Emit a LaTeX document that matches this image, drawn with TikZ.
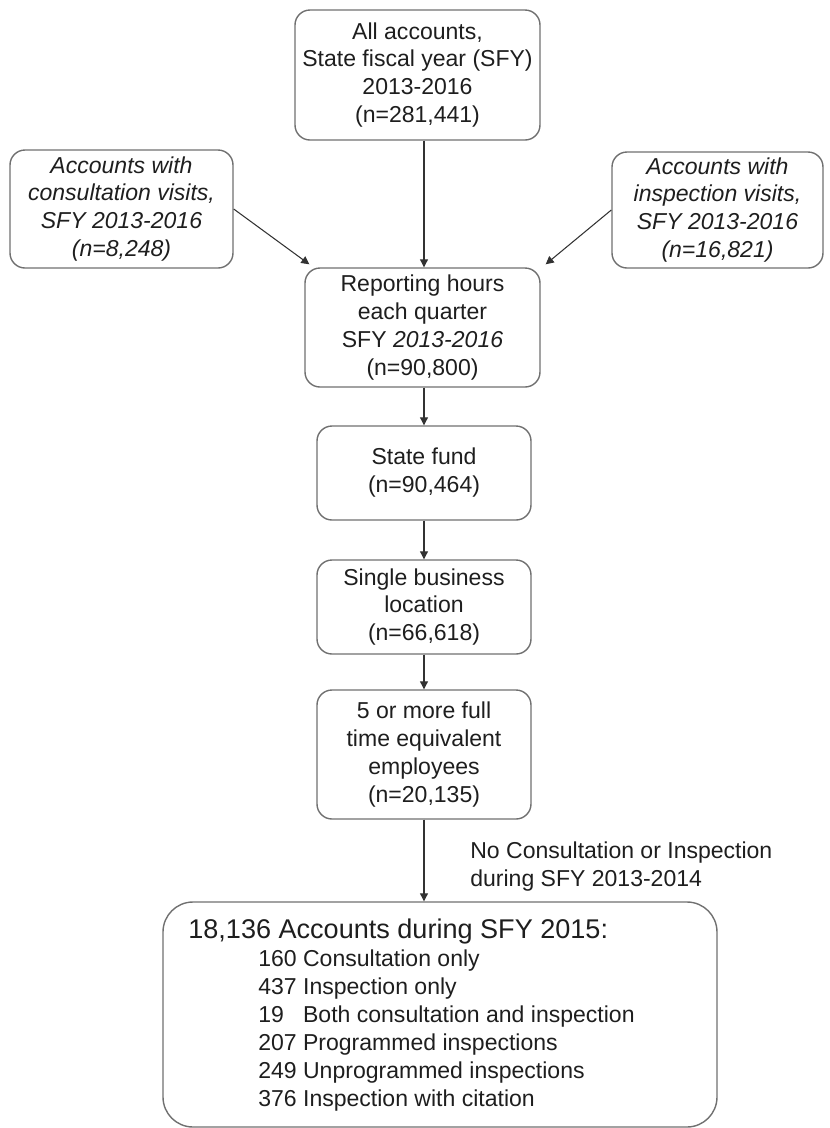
\documentclass[tikz,border=0pt]{standalone}
\usepackage{fontspec}
\setmainfont{Liberation Sans}
\usetikzlibrary{arrows.meta}
\definecolor{flowline}{RGB}{112,112,112}
\definecolor{flowtext}{RGB}{30,30,30}
\definecolor{flowarrow}{RGB}{50,50,50}

\begin{document}
\begin{tikzpicture}[x=1cm,y=1cm,
    box/.style={draw=flowline, line width=0.8pt, rounded corners=0.3cm, align=center, text=flowtext, inner sep=0pt, font=\fontsize{13.1}{15.9}\selectfont},
    arr/.style={-{Triangle[length=1.6mm,width=1.6mm]}, flowarrow, line width=0.6pt}]
    \useasboundingbox (0,0) rectangle (16.6,-22.56);
    \node[box, minimum width=4.9cm, minimum height=2.6cm] (all) at (8.35,-1.5) {All accounts,\\State fiscal year (SFY)\\2013-2016\\(n=281,441)};
    \node[box, minimum width=4.46cm, minimum height=2.36cm] (consult) at (2.43,-4.18) {\itshape Accounts with\\\itshape consultation visits,\\\itshape SFY 2013-2016\\\itshape (n=8,248)};
    \node[box, minimum width=4.22cm, minimum height=2.32cm] (insp) at (14.35,-4.2) {\itshape Accounts with\\\itshape inspection visits,\\\itshape SFY 2013-2016\\\itshape (n=16,821)};
    \node[box, minimum width=4.7cm, minimum height=2.38cm] (report) at (8.45,-6.55) {Reporting hours\\each quarter\\SFY \textit{2013-2016}\\(n=90,800)};
    \node[box, minimum width=4.28cm, minimum height=1.88cm] (fund) at (8.48,-9.46) {State fund\\(n=90,464)};
    \node[box, minimum width=4.28cm, minimum height=1.88cm] (single) at (8.48,-12.14) {Single business\\location\\(n=66,618)};
    \node[box, minimum width=4.28cm, minimum height=2.58cm] (fte) at (8.48,-15.09) {5 or more full\\time equivalent\\employees\\(n=20,135)};
    \node[box, rounded corners=0.6cm, minimum width=11.08cm, minimum height=4.5cm] (result) at (8.8,-20.29) {};
    \node[anchor=west, inner sep=0pt, text=flowtext, font=\fontsize{15.4}{18}\selectfont] (restitle) at (3.76,-18.62) {18,136 Accounts during SFY 2015:};
    \node[anchor=west, inner sep=0pt, align=left, text=flowtext, font=\fontsize{13.1}{16}\selectfont] (reslist) at (5.16,-20.61) {160 Consultation only\\437 Inspection only\\19\hphantom{0} Both consultation and inspection\\207 Programmed inspections\\249 Unprogrammed inspections\\376 Inspection with citation};
    \node[anchor=west, inner sep=0pt, align=left, text=flowtext, font=\fontsize{13.1}{15.9}\selectfont] (nolabel) at (9.4,-17.33) {No Consultation or Inspection\\during SFY 2013-2014};
    \draw[arr] (all.south -| fund) -- (report.north -| fund);
    \draw[arr] (consult.east) -- ([xshift=0.1cm,yshift=0.06cm]report.north west);
    \draw[arr] (insp.west) -- ([xshift=0.1cm,yshift=0.06cm]report.north east);
    \draw[arr] (report.south -| fund) -- (fund);
    \draw[arr] (fund) -- (single);
    \draw[arr] (single) -- (fte);
    \draw[arr] (fte) -- (fte |- result.north);
  \end{tikzpicture}
\end{document}
